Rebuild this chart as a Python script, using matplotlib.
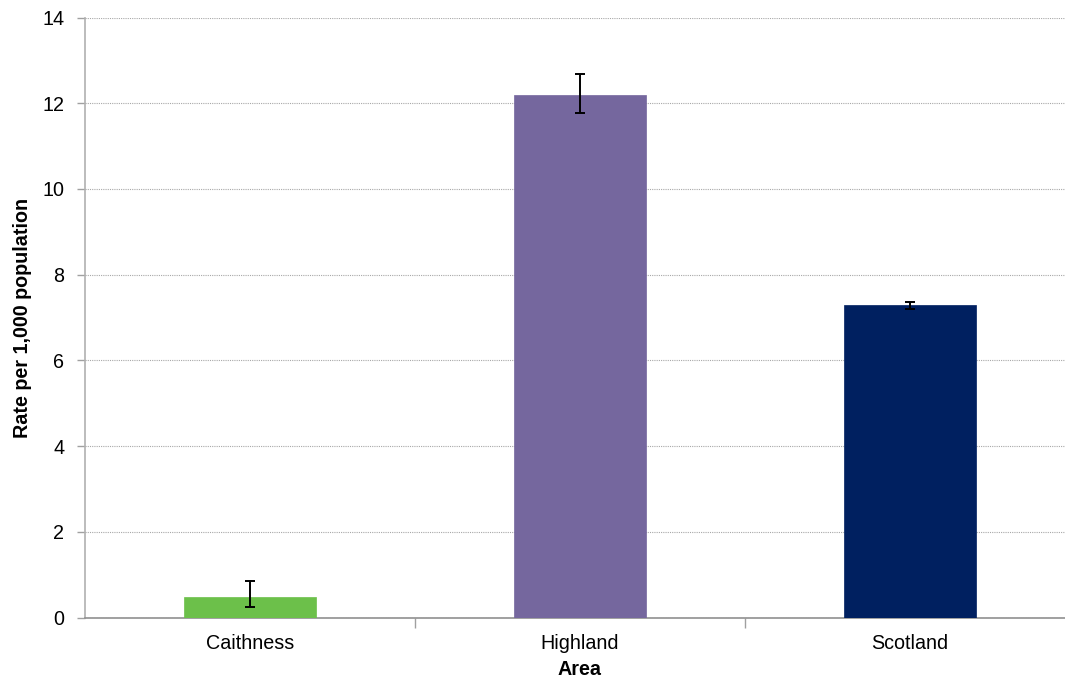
import matplotlib
matplotlib.use("Agg")
import matplotlib.pyplot as plt
import numpy as np

categories = ["Caithness", "Highland", "Scotland"]
values = [0.49, 12.2, 7.29]
err_low = [0.24, 0.42, 0.09]
err_high = [0.37, 0.48, 0.07]
colors = ["#6CC04A", "#75679E", "#002060"]
yticks = [0, 2, 4, 6, 8, 10, 12, 14]

plt.rcParams['font.family'] = ['Liberation Sans', 'DejaVu Sans']
fs = 14.2

fig = plt.figure(figsize=(10.65, 6.82), dpi=100)
ax = fig.add_axes([85/1065, 1-617.5/682, 990/1065, 600/682])

x = np.arange(len(categories))
ax.bar(x, values, width=0.4, color=colors, edgecolor=colors, linewidth=0.5, zorder=3)
ax.errorbar(x, values, yerr=[err_low, err_high], fmt='none', ecolor='black',
            elinewidth=1.4, capsize=3.5, capthick=1.4, zorder=4)

ax.set_xlim(-0.5, 2.5)
ax.set_ylim(0, 14)
ax.set_yticks(yticks)
ax.set_yticklabels([str(t) for t in yticks], fontsize=fs)
ax.yaxis.grid(True, linestyle=(0, (1, 1)), color='#A8A8A8', linewidth=0.8, zorder=0)

ax.set_xticks(x)
ax.set_xticklabels(categories, fontsize=fs)
ax.tick_params(axis='x', length=0, pad=12)
ax.set_xticks([0.5, 1.5], minor=True)
ax.tick_params(axis='x', which='minor', length=7, color='#A0A0A0', width=1)
ax.tick_params(axis='y', length=6, color='#A0A0A0', width=1, pad=9)

for s in ['top', 'right']:
    ax.spines[s].set_visible(False)
ax.spines['left'].set_color('#B0B0B0')
ax.spines['bottom'].set_color('#909090')
ax.spines['left'].set_linewidth(1.2)
ax.spines['bottom'].set_linewidth(1.2)

ax.set_xlabel("Area", fontsize=fs, fontweight='bold', labelpad=5)
ax.set_ylabel("Rate per 1,000 population", fontsize=fs, fontweight='bold', labelpad=7)

fig.savefig("out.png", dpi=100)
